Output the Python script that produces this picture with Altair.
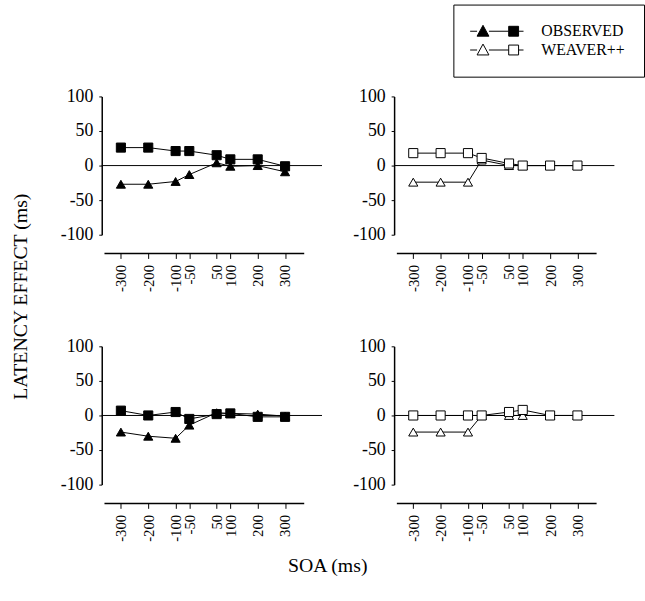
import altair as alt
import pandas as pd

soa = [-300, -200, -100, -50, 50, 100, 200, 300]

# top-left: observed
obs_top_square = [26, 26, 21, 21, 15, 9, 9, -1]
obs_top_triangle = [-27, -27, -23, -13, 4, -1, 0, -9]
# top-right: WEAVER++
wv_top_square = [18, 18, 18, 11, 3, 0, 0, 0]
wv_top_triangle = [-24, -24, -24, 8, 0, 0, 0, 0]
# bottom-left: observed
obs_bot_square = [7, 0, 5, -5, 2, 3, -2, -2]
obs_bot_triangle = [-24, -30, -33, -14, 4, 3, 2, -1]
# bottom-right: WEAVER++
wv_bot_square = [0, 0, 0, 0, 5, 8, 0, 0]
wv_bot_triangle = [-24, -24, -24, 0, 0, 0, 0, 0]

y_ticks = [-100, -50, 0, 50, 100]
models = ["OBSERVED", "WEAVER++"]

FONT = "Liberation Serif"


def make_df(model, tri, sq):
    rows = []
    for s, v in zip(soa, tri):
        rows.append({"soa": s, "effect": v, "marker": "triangle", "model": model})
    for s, v in zip(soa, sq):
        rows.append({"soa": s, "effect": v, "marker": "square", "model": model})
    return pd.DataFrame(rows)


LEG_PATH = ("M-5.4,0L-4,0M-1.6,0L2.4,0M4.4,0L5.4,0"
            "M-2.8,-1.2L-1.6,1L-4,1Z"
            "M2.4,-1L4.4,-1L4.4,1L2.4,1Z")

W, H = 223, 140


def panel(df):
    xs = alt.Scale(domain=[-370, 435], nice=False, zero=False)
    ys = alt.Scale(domain=[-100, 100], nice=False)
    x_axis = alt.Axis(values=soa, labelAngle=270, domain=False, offset=19,
                      tickSize=5, labelPadding=6, grid=False, title=None,
                      labelFont=FONT, labelFontSize=15, labelColor="black",
                      tickColor="black", labelFlush=False, labelOverlap=False,
                      labelExpr="'' + datum.value")
    y_axis = alt.Axis(values=y_ticks, title=None, grid=False, domainColor="black",
                      domainWidth=1.5, tickSize=3, tickColor="black",
                      labelFont=FONT, labelFontSize=18, labelColor="black",
                      labelPadding=6, labelExpr="'' + datum.value")
    base = alt.Chart(df)
    zero = alt.Chart(pd.DataFrame({"z": [0]})).mark_rule(
        color="black", strokeWidth=1).encode(y=alt.Y("z:Q", scale=ys, axis=y_axis))
    axis_line = alt.Chart(pd.DataFrame({"a": [-360], "b": [370]})).mark_rule(
        color="black", strokeWidth=1.5).encode(
        x=alt.X("a:Q", scale=xs, axis=x_axis), x2="b:Q", y=alt.value(H + 19))
    lines = base.mark_line(color="black", strokeWidth=1).encode(
        x=alt.X("soa:Q", scale=xs, axis=x_axis),
        y=alt.Y("effect:Q", scale=ys, axis=y_axis),
        detail="marker:N")
    points = base.mark_point(filled=True, size=85, stroke="black",
                             strokeWidth=1, opacity=1).encode(
        x=alt.X("soa:Q", scale=xs, axis=x_axis),
        y=alt.Y("effect:Q", scale=ys, axis=y_axis),
        shape=alt.Shape("marker:N", scale=alt.Scale(
            domain=["triangle", "square"], range=["triangle-up", "square"]),
            legend=None),
        fill=alt.Fill("model:N", scale=alt.Scale(domain=models,
                                                  range=["black", "white"]),
                      legend=alt.Legend(
                          title=None, orient="none", legendX=356, legendY=-93,
                          symbolType=LEG_PATH, symbolSize=100,
                          symbolStrokeColor="black", symbolStrokeWidth=1,
                          symbolOffset=17, labelOffset=37,
                          labelFont=FONT, labelFontSize=16, labelColor="black",
                          strokeColor="black", padding=19, rowPadding=3,
                          fillColor="white")),
    )
    return alt.layer(zero, axis_line, lines, points).properties(width=W, height=H)


p1 = panel(make_df("OBSERVED", obs_top_triangle, obs_top_square))
p2 = panel(make_df("WEAVER++", wv_top_triangle, wv_top_square))
p3 = panel(make_df("OBSERVED", obs_bot_triangle, obs_bot_square))
p4 = panel(make_df("WEAVER++", wv_bot_triangle, wv_bot_square))

grid = alt.concat(
    p1, p2, p3, p4, columns=2,
    spacing=alt.RowColnumber(row=113, column=73), bounds="flush",
).properties(
    title=alt.TitleParams("LATENCY EFFECT (ms)", orient="left", anchor="middle",
                          font=FONT, fontSize=20, fontWeight="normal",
                          color="black", offset=30, dx=18)
).resolve_scale(fill="shared", shape="shared").resolve_legend(fill="shared")

chart = alt.vconcat(grid).properties(
    title=alt.TitleParams("SOA (ms)", orient="bottom", anchor="middle",
                          font=FONT, fontSize=20, fontWeight="normal",
                          color="black", offset=15),
    background="white",
    padding={"left": 11, "top": 0, "right": 0, "bottom": 5},
).resolve_scale(fill="shared", shape="shared").resolve_legend(
    fill="shared").configure_view(stroke=None)

chart.save("out.html", embed_options={"renderer": "svg", "actions": False})
